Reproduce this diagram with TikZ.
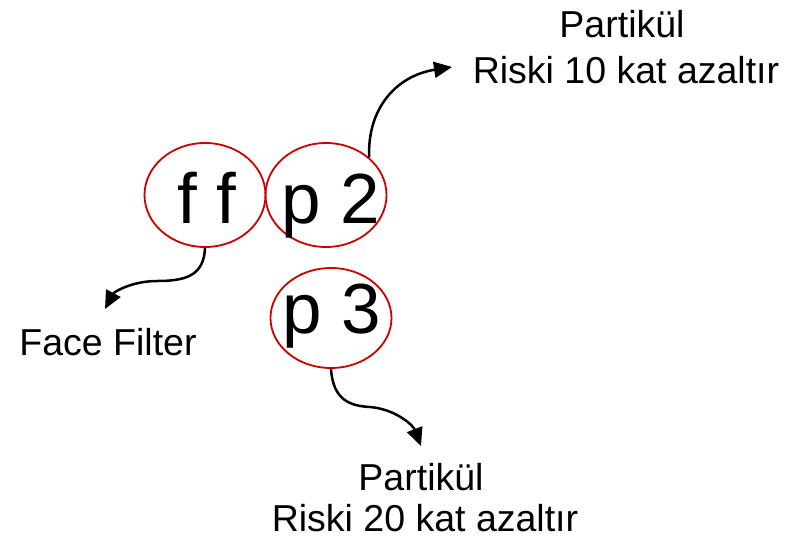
\documentclass[tikz,border=0pt]{standalone}
\usepackage{fontspec}
\setmainfont{Liberation Sans}
\usetikzlibrary{shapes.geometric,arrows.meta}
\definecolor{ringred}{RGB}{204,0,0}
\begin{document}
\begin{tikzpicture}[x=1pt,y=-1pt,
  ring/.style={draw=ringred,line width=1.8pt,ellipse,inner sep=0pt,
    minimum width=121pt,minimum height=104pt},
  big/.style={anchor=base,inner sep=0pt,font=\fontsize{71}{71}\selectfont},
  note/.style={anchor=base,inner sep=0pt,font=\fontsize{37.5}{37.5}\selectfont},
  pointer/.style={line width=2.5pt,-{Triangle[length=18pt,width=16pt]}}]
\useasboundingbox (0,0) rectangle (790,539);

% circled abbreviations
\node[ring] (ff) at (205,195) {};
\node[ring] (p2) at (326,195) {};
\node[ring,minimum height=100pt] (p3) at (331,318) {};
\node[big] (ffl) at (207,223) {f f};
\node[big] (p2l) at (331,223) {p 2};
\node[big] (p3l) at (332,333) {p 3};

% explanations
\node[note] (t1) at (622,37) {Partikül};
\node[note] (t2) at (626,83) {Riski 10 kat azaltır};
\node[note] (t3) at (108,355) {Face Filter};
\node[note] (t4) at (421,490) {Partikül};
\node[note] (t5) at (425,531) {Riski 20 kat azaltır};

% arrow ends
\coordinate (e2) at (452,67);
\coordinate (eff) at (105,309);
\coordinate (e3) at (421,446);

\draw[pointer] (p2.41) .. controls (367,110) and (395,76) .. (e2);
\draw[pointer] (ff.-90) .. controls (204,276) and (185,281) .. (157,281)
  .. controls (132,281) and (114,292) .. (eff);
\draw[pointer] (p3.-90) .. controls (333,400) and (350,406) .. (370,407)
  .. controls (395,409) and (413,425) .. (e3);
\end{tikzpicture}
\end{document}
